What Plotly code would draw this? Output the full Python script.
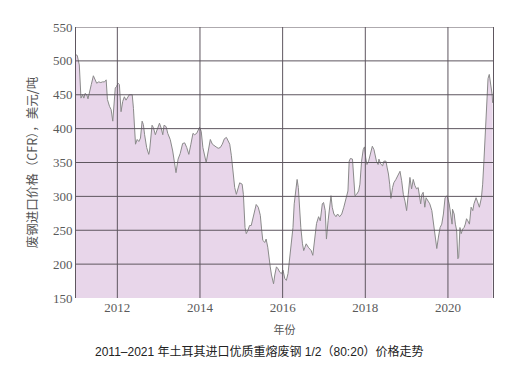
import plotly.graph_objects as go

years = [2011.00, 2011.03, 2011.08, 2011.10, 2011.12, 2011.16, 2011.19, 2011.22, 2011.26, 2011.29,
         2011.34, 2011.37, 2011.42, 2011.47, 2011.50, 2011.55, 2011.60, 2011.64, 2011.69, 2011.73,
         2011.76, 2011.81, 2011.85, 2011.89, 2011.93, 2011.95, 2011.98, 2012.02, 2012.05, 2012.09,
         2012.13, 2012.17, 2012.21, 2012.25, 2012.29, 2012.36, 2012.39, 2012.44, 2012.48, 2012.52,
         2012.56, 2012.60, 2012.63, 2012.66, 2012.71, 2012.76, 2012.78, 2012.84, 2012.87, 2012.92,
         2012.97, 2013.02, 2013.06, 2013.10, 2013.13, 2013.18, 2013.22, 2013.28, 2013.34, 2013.39,
         2013.42, 2013.47, 2013.52, 2013.58, 2013.63, 2013.68, 2013.73, 2013.78, 2013.83, 2013.87,
         2013.92, 2013.99, 2014.03, 2014.07, 2014.12, 2014.15, 2014.20, 2014.25, 2014.30, 2014.35,
         2014.39, 2014.44, 2014.49, 2014.54, 2014.59, 2014.64, 2014.67, 2014.72, 2014.76, 2014.80,
         2014.84, 2014.88, 2014.92, 2014.96, 2015.02, 2015.05, 2015.09, 2015.12, 2015.16, 2015.20,
         2015.24, 2015.28, 2015.32, 2015.36, 2015.41, 2015.46, 2015.49, 2015.52, 2015.57, 2015.60,
         2015.64, 2015.67, 2015.70, 2015.73, 2015.78, 2015.81, 2015.85, 2015.89, 2015.93, 2015.97,
         2016.01, 2016.05, 2016.09, 2016.13, 2016.17, 2016.21, 2016.25, 2016.28, 2016.32, 2016.35,
         2016.38, 2016.41, 2016.44, 2016.48, 2016.51, 2016.54, 2016.57, 2016.62, 2016.65, 2016.69,
         2016.73, 2016.78, 2016.82, 2016.87, 2016.91, 2016.96, 2016.99, 2017.03, 2017.06, 2017.10,
         2017.14, 2017.17, 2017.20, 2017.24, 2017.29, 2017.33, 2017.38, 2017.43, 2017.48, 2017.53,
         2017.58, 2017.61, 2017.64, 2017.69, 2017.72, 2017.75, 2017.79, 2017.84, 2017.87, 2017.91,
         2017.95, 2017.98, 2018.01, 2018.04, 2018.08, 2018.13, 2018.17, 2018.21, 2018.24, 2018.27,
         2018.31, 2018.33, 2018.37, 2018.42, 2018.45, 2018.50, 2018.53, 2018.56, 2018.59, 2018.62,
         2018.66, 2018.69, 2018.74, 2018.79, 2018.84, 2018.88, 2018.92, 2018.96, 2019.00, 2019.04,
         2019.08, 2019.12, 2019.16, 2019.20, 2019.24, 2019.28, 2019.30, 2019.34, 2019.37, 2019.40,
         2019.44, 2019.47, 2019.52, 2019.56, 2019.61, 2019.64, 2019.68, 2019.71, 2019.73, 2019.77,
         2019.81, 2019.85, 2019.89, 2019.93, 2019.98, 2020.03, 2020.07, 2020.10, 2020.11, 2020.15,
         2020.18, 2020.21, 2020.24, 2020.26, 2020.29, 2020.32, 2020.36, 2020.39, 2020.42, 2020.45,
         2020.48, 2020.52, 2020.56, 2020.60, 2020.63, 2020.68, 2020.71, 2020.76, 2020.81, 2020.84,
         2020.87, 2020.90, 2020.94, 2020.97, 2021.00, 2021.04, 2021.07, 2021.08]

prices = [509, 508, 494, 455, 445, 450, 445, 452, 450, 444,
          460, 465, 478, 472, 467, 469, 468, 469, 469, 472,
          443, 433, 428, 411, 443, 460, 462, 467, 465, 425,
          440, 447, 442, 447, 450, 450, 430, 377, 384, 381,
          386, 411, 406, 391, 372, 362, 367, 405, 402, 391,
          401, 408, 401, 391, 405, 403, 393, 384, 367, 350,
          335, 355, 363, 378, 379, 372, 362, 377, 393, 391,
          393, 402, 396, 372, 355, 350, 367, 384, 377, 374,
          373, 371, 372, 377, 385, 387, 384, 377, 360, 337,
          313, 303, 313, 320, 318, 303, 254, 245, 250, 257,
          257, 267, 279, 288, 284, 272, 252, 235, 232, 237,
          225, 206, 196, 184, 171, 184, 196, 193, 188, 186,
          191, 179, 176, 186, 210, 235, 254, 289, 313, 325,
          313, 279, 254, 230, 220, 225, 230, 225, 223, 220,
          213, 235, 260, 270, 264, 289, 291, 279, 237, 264,
          284, 301, 284, 274, 270, 274, 270, 274, 284, 296,
          308, 352, 356, 355, 328, 301, 303, 308, 318, 352,
          369, 373, 357, 347, 352, 367, 374, 369, 357, 352,
          347, 355, 348, 345, 352, 352, 342, 333, 318, 297,
          313, 320, 325, 330, 337, 323, 303, 293, 279, 303,
          328, 311, 325, 316, 311, 313, 303, 289, 303, 306,
          284, 298, 293, 289, 279, 264, 245, 230, 223, 240,
          254, 259, 274, 298, 301, 289, 269, 259, 281, 274,
          259, 250, 208, 210, 254, 245, 252, 254, 259, 267,
          264, 259, 284, 279, 289, 298, 293, 284, 298, 318,
          352, 386, 435, 474, 480, 464, 450, 438]

x_ticks = [2012, 2014, 2016, 2018, 2020]
y_ticks = [150, 200, 250, 300, 350, 400, 450, 500, 550]

x_range = [2011.0, 2021.09]
y_range = [150, 550]

y_title = "废钢进口价格（CFR），美元/吨"
x_title = "年份"
caption = "2011–2021 年土耳其进口优质重熔废钢 1/2（80:20）价格走势"

grid_color = "#5e565f"
serif = "Liberation Serif"
cjk = "Noto Sans CJK SC"
cap_font = "Liberation Sans, Noto Sans CJK SC"

fig = go.Figure()
fig.add_trace(go.Scatter(
    x=years, y=prices, mode="lines",
    line=dict(color="#8a8a8a", width=1),
    fill="tozeroy", fillcolor="#e8d6ea",
    hoverinfo="skip", showlegend=False,
))

shapes = []
for t in x_ticks:
    shapes.append(dict(type="line", xref="x", yref="y", x0=t, x1=t, y0=y_range[0], y1=y_range[1],
                       line=dict(color=grid_color, width=1), layer="above"))
for t in y_ticks[1:]:
    shapes.append(dict(type="line", xref="x", yref="y", x0=x_range[0], x1=x_range[1], y0=t, y1=t,
                       line=dict(color=grid_color, width=1), layer="above"))

fig.update_layout(
    width=499, height=372,
    margin=dict(l=68, r=14, t=17, b=82),
    paper_bgcolor="white", plot_bgcolor="white",
    font=dict(family=serif, size=13, color="#5a5a5a"),
    shapes=shapes,
    xaxis=dict(range=x_range, tickvals=x_ticks, ticktext=[str(t) for t in x_ticks],
               showgrid=False, zeroline=False, showline=False, ticks="",
               tickfont=dict(family=serif, size=13, color="#5a5a5a"),
               title=dict(text=x_title, font=dict(family=cjk, size=11, color="#555555"),
                          standoff=12)),
    yaxis=dict(range=y_range, tickvals=y_ticks, showgrid=False, zeroline=False,
               showline=True, mirror=True, linecolor=grid_color, linewidth=1, ticks="",
               layer="above traces",
               tickfont=dict(family=serif, size=13, color="#5a5a5a"),
               title=dict(text=y_title, font=dict(family=cjk, size=12.5, color="#555555"),
                          standoff=12)),
    annotations=[dict(text=caption, xref="paper", yref="paper", x=0.441, y=-0.198,
                      xanchor="center", yanchor="middle", showarrow=False,
                      font=dict(family=cap_font, size=12, color="#222222"))],
)

fig.write_html("out.html")
